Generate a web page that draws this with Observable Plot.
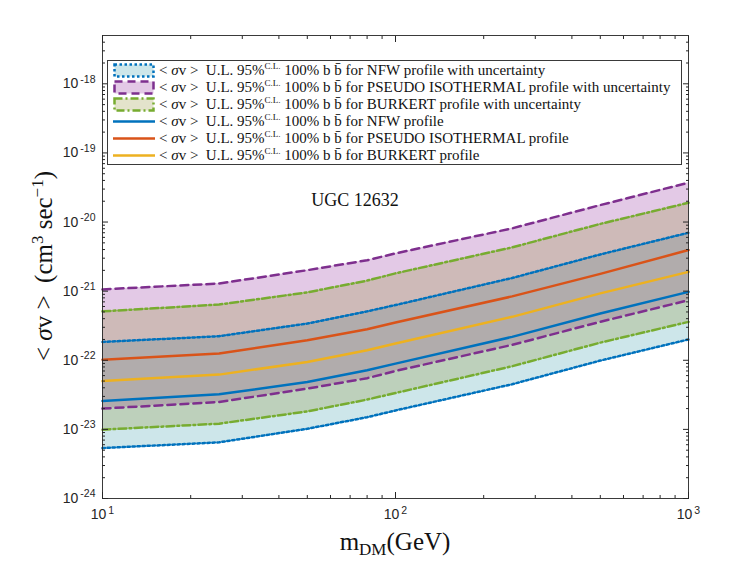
<!DOCTYPE html>
<html>
<head>
<meta charset="utf-8">
<script src="https://cdn.jsdelivr.net/npm/d3@7"></script>
<script src="https://cdn.jsdelivr.net/npm/@observablehq/plot@0.6"></script>
<style>
  html, body { margin: 0; padding: 0; background: white; }
  #wrap { position: relative; width: 747px; height: 567px; }
  #legend {
    position: absolute; left: 107px; top: 60px; width: 575px; height: 105px;
    border: 1px solid #3a3a3a; background: white; box-sizing: border-box;
    font-family: "Liberation Serif", serif; font-size: 15px; color: #111;
    padding-top: 1px;
  }
  .row { display: flex; align-items: center; height: 17px; white-space: nowrap; }
  .row svg { margin-left: 5px; margin-right: 4px; flex: none; }
  .row sup { font-size: 9px; vertical-align: 6px; line-height: 0; }
</style>
</head>
<body>
<div id="wrap"><div id="legend"></div></div>
<script>
// ---- data ----
const mass   = [10, 25, 50, 80, 100, 250, 500, 1000];
const nfw    = [2.57e-23, 3.22e-23, 4.85e-23, 7.16e-23, 8.95e-23, 2.18e-22, 4.75e-22, 9.77e-22];
const pIso   = [1.02e-22, 1.25e-22, 1.95e-22, 2.81e-22, 3.52e-22, 8.4e-22, 1.78e-21, 3.93e-21];
const bur    = [5.0e-23, 6.2e-23, 9.45e-23, 1.4e-22, 1.75e-22, 4.25e-22, 9.3e-22, 1.9e-21];
const nfwUp  = [1.84e-22, 2.23e-22, 3.4e-22, 5.1e-22, 6.3e-22, 1.55e-21, 3.4e-21, 7.0e-21];
const nfwLo  = [5.36e-24, 6.5e-24, 1.02e-23, 1.5e-23, 1.88e-23, 4.5e-23, 9.9e-23, 2.0e-22];
const pIsoUp = [1.06e-21, 1.29e-21, 2.01e-21, 2.8e-21, 3.52e-21, 8.1e-21, 1.76e-20, 3.71e-20];
const pIsoLo = [2.0e-23, 2.49e-23, 3.89e-23, 5.5e-23, 7.0e-23, 1.67e-22, 3.6e-22, 7.4e-22];
const burUp  = [5.1e-22, 6.4e-22, 9.6e-22, 1.42e-21, 1.81e-21, 4.3e-21, 9.4e-21, 1.9e-20];
const burLo  = [9.9e-24, 1.21e-23, 1.82e-23, 2.7e-23, 3.36e-23, 8.2e-23, 1.8e-22, 3.59e-22];

const yMajor = [1e-24, 1e-23, 1e-22, 1e-21, 1e-20, 1e-19, 1e-18];
const xMajor = [10, 100, 1000];
const yMinor = [];
for (let e = -24; e <= -18; e++) for (let k = 2; k <= 9; k++) { const v = k * Math.pow(10, e); if (v < 5e-18) yMinor.push(v); }
const xMinor = [];
for (let e = 1; e <= 2; e++) for (let k = 2; k <= 9; k++) xMinor.push(k * Math.pow(10, e));

const legendLabels = [
  "NFW profile with uncertainty",
  "PSEUDO ISOTHERMAL profile with uncertainty",
  "BURKERT profile with uncertainty",
  "NFW profile",
  "PSEUDO ISOTHERMAL profile",
  "BURKERT profile"
];

const rows = mass.map((m, i) => ({
  m, nfw: nfw[i], pIso: pIso[i], bur: bur[i],
  nfwUp: nfwUp[i], nfwLo: nfwLo[i], pIsoUp: pIsoUp[i], pIsoLo: pIsoLo[i],
  burUp: burUp[i], burLo: burLo[i]
}));

const C = {
  blue: "#0072BD", orange: "#D95319", yellow: "#EDB120", purple: "#7E2F8E", green: "#77AC30",
  fNfw: "rgb(55,155,171)", fPiso: "rgb(143,39,155)", fBur: "rgb(143,143,47)"
};
const FO = 0.25;
const DOT = "2.5,2.5", DASH = "8,5", DASHDOT = "8,3,2,3";
const fmt = d => "10^" + Math.round(Math.log10(d));
const blank = () => "";

const chart = Plot.plot({
  width: 747, height: 567,
  marginLeft: 102, marginRight: 59, marginTop: 35, marginBottom: 69,
  style: { fontFamily: "Liberation Sans, Arial, sans-serif", fontSize: "14px", color: "#262626", background: "white" },
  x: { type: "log", domain: [10, 1000] },
  y: { type: "log", domain: [1e-24, 5e-18] },
  marks: [
    Plot.areaY(rows, { x: "m", y1: "nfwLo", y2: "nfwUp", fill: C.fNfw, fillOpacity: FO }),
    Plot.areaY(rows, { x: "m", y1: "pIsoLo", y2: "pIsoUp", fill: C.fPiso, fillOpacity: FO }),
    Plot.areaY(rows, { x: "m", y1: "burLo", y2: "burUp", fill: C.fBur, fillOpacity: FO }),
    Plot.lineY(rows, { x: "m", y: "nfwUp", stroke: C.blue, strokeWidth: 2.5, strokeDasharray: DOT }),
    Plot.lineY(rows, { x: "m", y: "nfwLo", stroke: C.blue, strokeWidth: 2.5, strokeDasharray: DOT }),
    Plot.lineY(rows, { x: "m", y: "pIsoUp", stroke: C.purple, strokeWidth: 2.5, strokeDasharray: DASH }),
    Plot.lineY(rows, { x: "m", y: "pIsoLo", stroke: C.purple, strokeWidth: 2.5, strokeDasharray: DASH }),
    Plot.lineY(rows, { x: "m", y: "burUp", stroke: C.green, strokeWidth: 2.5, strokeDasharray: DASHDOT }),
    Plot.lineY(rows, { x: "m", y: "burLo", stroke: C.green, strokeWidth: 2.5, strokeDasharray: DASHDOT }),
    Plot.lineY(rows, { x: "m", y: "nfw", stroke: C.blue, strokeWidth: 2.5 }),
    Plot.lineY(rows, { x: "m", y: "pIso", stroke: C.orange, strokeWidth: 2.5 }),
    Plot.lineY(rows, { x: "m", y: "bur", stroke: C.yellow, strokeWidth: 2.5 }),
    Plot.frame({ stroke: "#262626", strokeWidth: 0.9 }),
    Plot.axisY({ ticks: yMajor, anchor: "left", tickSize: -6, tickPadding: 13, tickFormat: fmt, label: null }),
    Plot.axisY({ ticks: yMinor, anchor: "left", tickSize: -3, tickFormat: blank, label: null }),
    Plot.axisY({ ticks: yMajor, anchor: "right", tickSize: -6, tickFormat: blank, label: null }),
    Plot.axisY({ ticks: yMinor, anchor: "right", tickSize: -3, tickFormat: blank, label: null }),
    Plot.axisX({ ticks: xMajor, anchor: "bottom", tickSize: -6, tickPadding: 17, tickFormat: fmt, label: null }),
    Plot.axisX({ ticks: xMinor, anchor: "bottom", tickSize: -3, tickFormat: blank, label: null }),
    Plot.axisX({ ticks: xMajor, anchor: "top", tickSize: -6, tickFormat: blank, label: null }),
    Plot.axisX({ ticks: xMinor, anchor: "top", tickSize: -3, tickFormat: blank, label: null })
  ]
});

document.getElementById("wrap").prepend(chart);
const svg = d3.select(chart);

// superscript exponents on tick labels
svg.selectAll("text").each(function () {
  const t = this.textContent;
  const m = /^10\^(-?\d+)$/.exec(t);
  if (!m) return;
  const el = d3.select(this);
  el.text("10");
  el.append("tspan").attr("dx", 2).attr("dy", "-0.55em").attr("font-size", "10.5px").text(m[1]);
});

// axis titles and annotation
const serif = "Liberation Serif, Times New Roman, serif";
const xl = svg.append("text").attr("x", 395).attr("y", 550).attr("text-anchor", "middle")
  .attr("font-family", serif).attr("font-size", 25).attr("fill", "#111");
xl.append("tspan").text("m");
xl.append("tspan").attr("font-size", 17).attr("dy", 5).text("DM");
xl.append("tspan").attr("dy", -5).text("(GeV)");

const yl = svg.append("text").attr("transform", "translate(52,266) rotate(-90)").attr("text-anchor", "middle")
  .attr("font-family", serif).attr("font-size", 25).attr("fill", "#111");
yl.append("tspan").text("< ");
yl.append("tspan").attr("font-style", "italic").text("σ");
yl.append("tspan").text("v >  (cm");
yl.append("tspan").attr("font-size", 17).attr("dy", -9).text("3");
yl.append("tspan").attr("dy", 9).text(" sec");
yl.append("tspan").attr("font-size", 17).attr("dy", -9).text("−1");
yl.append("tspan").attr("dy", 9).text(")");

svg.append("text").attr("x", 355).attr("y", 206).attr("text-anchor", "middle")
  .attr("font-family", serif).attr("font-size", 18).attr("fill", "#111").text("UGC 12632");

// legend
const styles = [
  { band: true, stroke: C.blue, fill: C.fNfw, dash: DOT },
  { band: true, stroke: C.purple, fill: C.fPiso, dash: DASH },
  { band: true, stroke: C.green, fill: C.fBur, dash: DASHDOT },
  { band: false, stroke: C.blue },
  { band: false, stroke: C.orange },
  { band: false, stroke: C.yellow }
];
const leg = d3.select("#legend");
legendLabels.forEach((lab, i) => {
  const s = styles[i];
  const row = leg.append("div").attr("class", "row");
  const sv = row.append("svg").attr("width", 42).attr("height", 15);
  if (s.band) {
    sv.append("rect").attr("x", 1.5).attr("y", 1.5).attr("width", 39).attr("height", 12)
      .attr("fill", s.fill).attr("fill-opacity", FO).attr("stroke", s.stroke)
      .attr("stroke-width", 2.5).attr("stroke-dasharray", s.dash);
  } else {
    sv.append("line").attr("x1", 0).attr("x2", 42).attr("y1", 7.5).attr("y2", 7.5)
      .attr("stroke", s.stroke).attr("stroke-width", 2.5);
  }
  const tx = row.append("span");
  tx.html("&lt; <i>σ</i>v &gt;&nbsp;&nbsp;U.L. 95%<sup>C.L.</sup> 100% b b̄ for " + lab);
});
</script>
</body>
</html>
